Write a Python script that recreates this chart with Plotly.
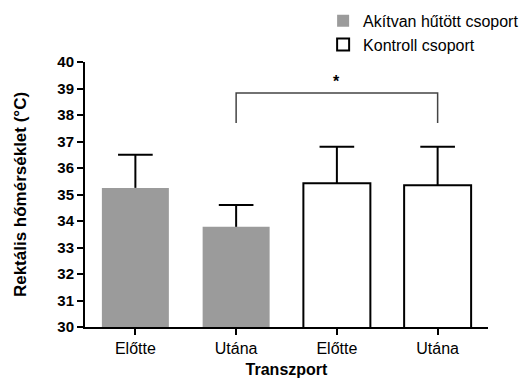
import plotly.graph_objects as go

categories = ["Előtte", "Utána", "Előtte", "Utána"]
cooled_values = [35.25, 33.78]
cooled_errors = [1.25, 0.82]
control_values = [35.42, 35.35]
control_errors = [1.38, 1.45]
group_names = ["Akítvan hűtött csoport", "Kontroll csoport"]
bracket_pair = [1, 3]
bracket_levels = [37.7, 38.83]
y_ticks = list(range(30, 41))

FONT = "Liberation Sans, Arial, sans-serif"
GRAY = "#9b9b9b"
BAR_W = 0.665
CAP_HALF = 0.172

x_cooled = [0, 1]
x_control = [2, 3]

fig = go.Figure()
fig.add_trace(go.Bar(
    x=x_cooled, y=cooled_values, width=BAR_W, name=group_names[0],
    marker=dict(color=GRAY, line=dict(width=0)),
))
fig.add_trace(go.Bar(
    x=x_control, y=control_values, width=BAR_W, name=group_names[1],
    marker=dict(color="white", line=dict(color="black", width=2)),
))

# error bars (upper only)
ex, ey = [], []
for xs, vals, errs in [(x_cooled, cooled_values, cooled_errors),
                       (x_control, control_values, control_errors)]:
    for x, v, e in zip(xs, vals, errs):
        ex += [x, x, None, x - CAP_HALF, x + CAP_HALF, None]
        ey += [v, v + e, None, v + e, v + e, None]
fig.add_trace(go.Scatter(x=ex, y=ey, mode="lines", showlegend=False,
                         line=dict(color="black", width=2), hoverinfo="skip"))

# significance bracket
fig.add_trace(go.Scatter(
    x=[bracket_pair[0], bracket_pair[0], bracket_pair[1], bracket_pair[1]],
    y=[bracket_levels[0], bracket_levels[1], bracket_levels[1], bracket_levels[0]],
    mode="lines", showlegend=False, line=dict(color="#444444", width=1.5),
    hoverinfo="skip"))
fig.add_annotation(x=sum(bracket_pair) / 2, y=bracket_levels[1], yshift=12,
                   text="<b>*</b>", showarrow=False,
                   font=dict(family=FONT, size=16, color="black"))

fig.update_layout(
    width=522, height=379,
    margin=dict(l=85, r=34, t=62, b=52, autoexpand=False),
    paper_bgcolor="white", plot_bgcolor="white",
    font=dict(family=FONT, color="black"),
    showlegend=True,
    legend=dict(x=0.619, y=0.99, xref="container", yref="container",
                xanchor="left", yanchor="top",
                font=dict(family=FONT, size=16, color="black"),
                bgcolor="rgba(0,0,0,0)", tracegroupgap=0),
    xaxis=dict(
        range=[-0.5, 3.5], tickmode="array", tickvals=[0, 1, 2, 3],
        ticktext=categories, showgrid=False, zeroline=False,
        showline=True, linecolor="black", linewidth=2,
        ticks="outside", ticklen=6, tickwidth=2, tickcolor="black",
        tickfont=dict(family=FONT, size=16, color="black"),
        title=dict(text="<b>Transzport</b>", font=dict(family=FONT, size=16),
                   standoff=8),
    ),
    yaxis=dict(
        range=[30, 40], tickmode="array", tickvals=y_ticks,
        ticktext=[f"<b>{t}</b>" for t in y_ticks],
        showgrid=False, zeroline=False,
        showline=True, linecolor="black", linewidth=2,
        ticks="outside", ticklen=6, tickwidth=2, tickcolor="black",
        tickfont=dict(family=FONT, size=15, color="black"),
        title=dict(text="<b>Rektális hőmérséklet (°C)</b>",
                   font=dict(family=FONT, size=17), standoff=26),
    ),
)

fig.write_html(
    "out.html",
    config={"displayModeBar": False},
    post_script="document.body.style.margin='0';document.body.style.overflow='hidden';",
)
